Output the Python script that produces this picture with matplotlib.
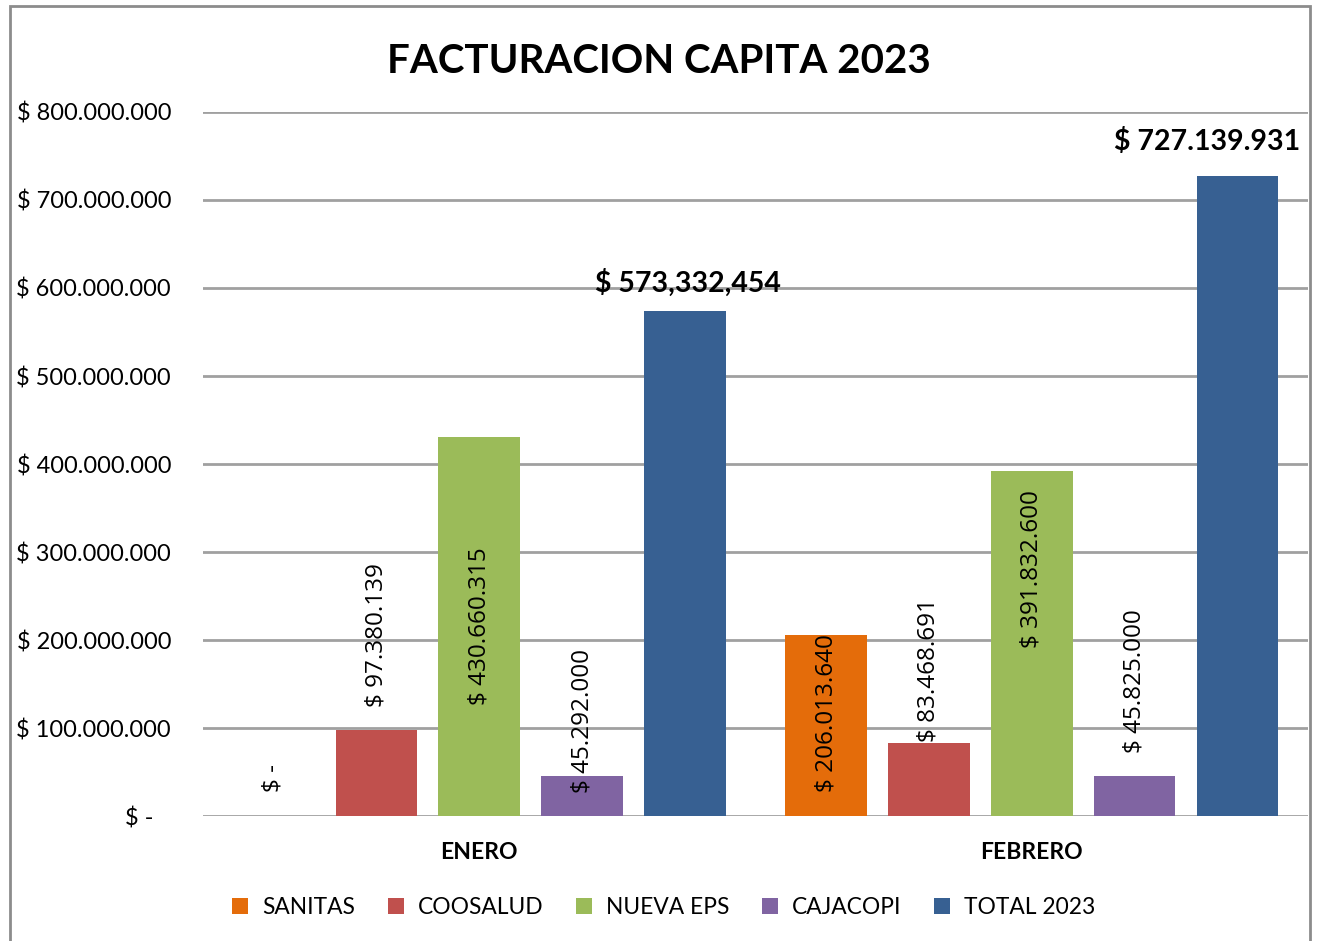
import numpy as np
import matplotlib.pyplot as plt
from matplotlib.patches import Rectangle

plt.rcParams['font.family'] = ['Lato', 'DejaVu Sans']

# ---------------- data ----------------
months = ['ENERO', 'FEBRERO']
series = ['SANITAS', 'COOSALUD', 'NUEVA EPS', 'CAJACOPI', 'TOTAL 2023']
colors = ['#E46C0A', '#C0504D', '#9BBB59', '#8064A2', '#376092']

sanitas = [0, 206013640]
coosalud = [97380139, 83468691]
nueva_eps = [430660315, 391832600]
cajacopi = [45292000, 45825000]
total_2023 = [573332454, 727139931]

# where each rotated label starts (bottom of text, in pesos) - as placed in the original
label_start = {
    'SANITAS': [27e6, 27e6],
    'COOSALUD': [124e6, 84e6],
    'NUEVA EPS': [126e6, 191e6],
    'CAJACOPI': [26e6, 72e6],
}
total_labels = ['$ 573,332,454', '$ 727.139.931']
total_label_y = [606e6, 767e6]
total_label_dx = [0.005, -0.055]

yticks = np.arange(0, 800e6 + 1, 100e6)


def peso(v):
    if v == 0:
        return '$ -   '
    return '$ ' + f'{v:,.0f}'.replace(',', '.')


# ---------------- figure ----------------
fig = plt.figure(figsize=(13.17, 9.41), dpi=100)
ax = fig.add_axes([0.1541, 0.1328, 0.8391, 0.7482])

x = np.arange(len(months))
step = 0.1861
width = 0.148
values = [sanitas, coosalud, nueva_eps, cajacopi, total_2023]

for i, (name, vals, col) in enumerate(zip(series, values, colors)):
    pos = x + (i - 2) * step
    ax.bar(pos, vals, width, color=col, label=name, zorder=3)
    if name in label_start:
        for p, v, ly in zip(pos, vals, label_start[name]):
            ax.text(p, ly, peso(v).strip(), rotation=90, ha='center', va='bottom',
                    fontsize=17.5, family=['Open Sans', 'DejaVu Sans'], zorder=4)
    else:
        for p, txt, ly, dx in zip(pos, total_labels, total_label_y, total_label_dx):
            ax.text(p + dx, ly, txt, ha='center', va='center', fontsize=20.5,
                    fontweight='bold', zorder=4)

ax.set_xlim(-0.5, 1.5)
ax.set_ylim(0, 800e6)
ax.set_yticks(yticks)
ax.set_yticklabels([peso(v) for v in yticks], fontsize=17)
ax.set_xticks(x)
ax.set_xticklabels(months, fontsize=16.5, fontweight='bold')
ax.tick_params(axis='both', length=0)
ax.tick_params(axis='y', pad=23)
ax.tick_params(axis='x', pad=19)
ax.grid(axis='y', color='#a0a0a0', linewidth=2, zorder=0)
for s in ax.spines.values():
    s.set_visible(False)

fig.suptitle('FACTURACION CAPITA 2023', x=0.5, y=0.954, fontsize=29, fontweight='bold')

handles, labels = ax.get_legend_handles_labels()
fig.legend(handles, labels, loc='center', bbox_to_anchor=(0.504, 0.036), ncol=5,
           frameon=False, fontsize=16.4, handlelength=0.7, handleheight=0.7,
           handletextpad=0.6, columnspacing=1.45)

# outer chart frame
fig.patches.append(Rectangle((10 / 1317, -0.01), 1300 / 1317, 1 - 6 / 941 + 0.01,
                             transform=fig.transFigure, fill=False,
                             edgecolor='#8c8c8c', linewidth=2))

fig.savefig('out.png', dpi=100, facecolor='white')
